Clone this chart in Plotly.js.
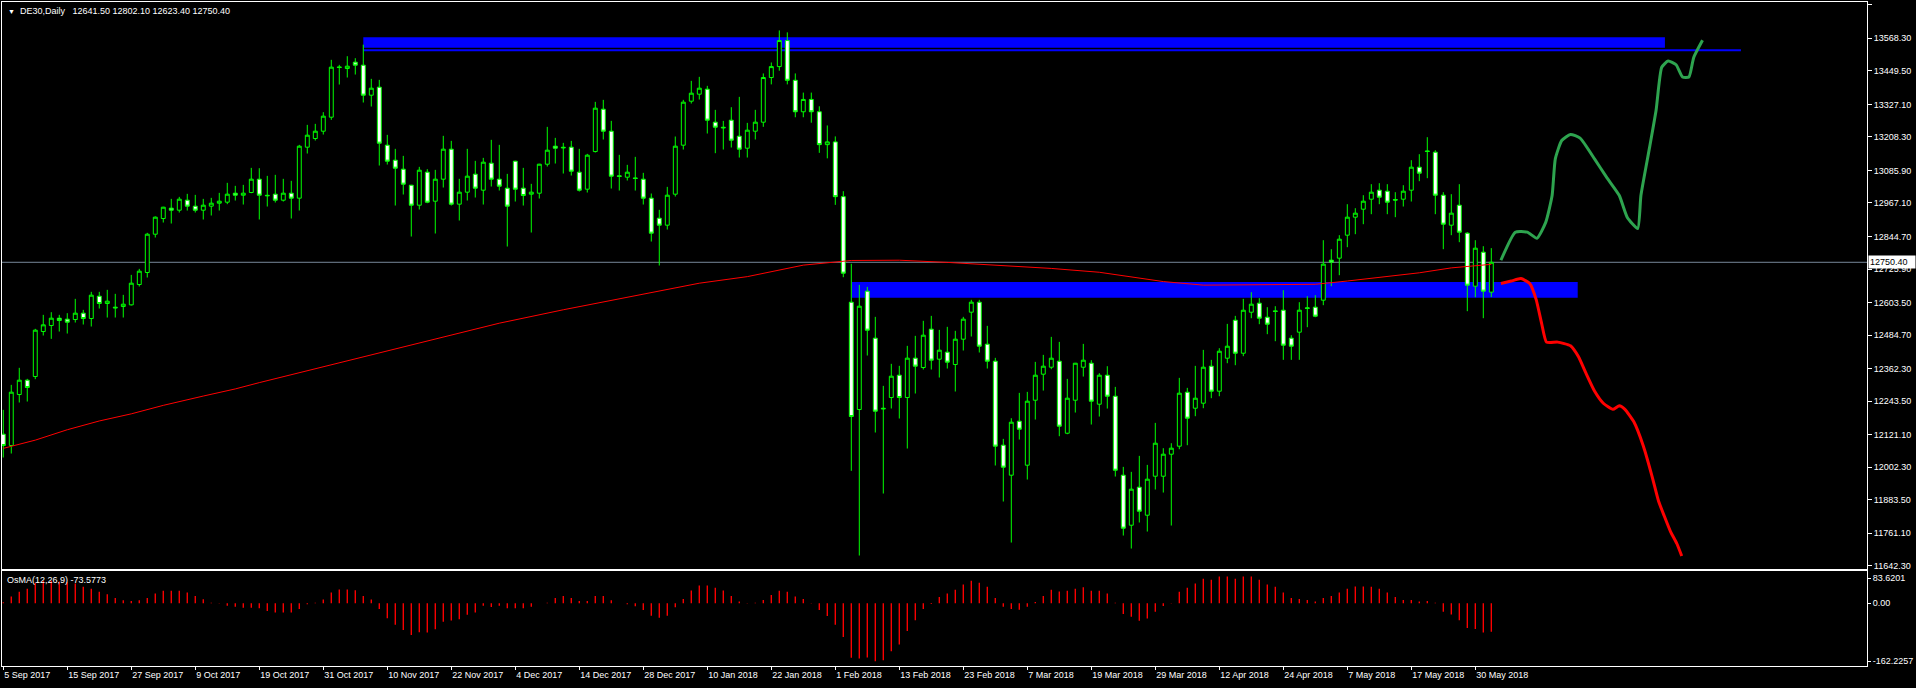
<!DOCTYPE html>
<html><head><meta charset="utf-8">
<script src="https://cdn.plot.ly/plotly-3.0.1.min.js"></script>
<style>html,body{margin:0;padding:0;background:#000;}#chart{width:1916px;height:688px;}</style>
</head><body><div id="chart"></div>
<script>
const symbolName = 'DE30,Daily';
const indicatorName = 'OsMA(12,26,9)';
const dateLabels = ['5 Sep 2017','15 Sep 2017','27 Sep 2017','9 Oct 2017','19 Oct 2017','31 Oct 2017','10 Nov 2017','22 Nov 2017','4 Dec 2017','14 Dec 2017','28 Dec 2017','10 Jan 2018','22 Jan 2018','1 Feb 2018','13 Feb 2018','23 Feb 2018','7 Mar 2018','19 Mar 2018','29 Mar 2018','12 Apr 2018','24 Apr 2018','7 May 2018','17 May 2018','30 May 2018'];
const barsPerLabel = 8;
const priceTicks = [13690.7,13568.3,13449.5,13327.1,13208.3,13085.9,12967.1,12844.7,12725.9,12603.5,12484.7,12362.3,12243.5,12121.1,12002.3,11883.5,11761.1,11642.3];
const osmaTickText = ['83.6201','0.00','-162.2257'];
const osmaRange = [-162.2257, 83.6201];

const openP = [12122.8,12081.4,12267.6,12319.9,12333.3,12497.6,12519.5,12546.3,12542.7,12541.4,
12564.6,12545.1,12626.6,12599.9,12586.5,12588.9,12595.0,12669.2,12713.1,12853.0,
12910.2,12948.0,12940.6,12977.2,12955.3,12940.6,12955.3,12966.2,12969.9,13002.7,
12995.4,13005.2,13053.8,12995.0,12999.1,12977.2,13002.7,12984.5,13170.7,13202.3,
13229.1,13280.2,13463.8,13457.9,13481.0,13470.1,13360.5,13389.8,13178.0,13123.2,
13090.4,13031.9,12958.9,13079.4,12973.5,13053.8,13163.4,12962.6,13006.4,13072.1,
13013.7,13112.3,13053.8,13021.0,13119.5,13021.0,12999.1,13002.7,13108.6,13174.3,
13170.5,13170.7,13079.4,13017.3,13154.8,13309.4,13229.1,13066.0,13061.1,13058.5,
13053.8,12984.5,12911.4,12885.9,12999.1,13178.0,13338.6,13364.2,13382.4,13262.0,
13243.5,13269.3,13210.8,13167.0,13229.1,13262.0,13425.0,13465.0,13560.0,13415.0,
13300.0,13345.0,13300.0,13180.0,13190.0,12990.0,12604.7,12212.8,12644.9,12473.3,
12217.5,12256.6,12338.2,12256.6,12400.3,12366.2,12506.2,12396.6,12422.2,12377.1,
12469.6,12568.2,12604.7,12451.4,12389.3,12082.6,11973.0,12170.2,12009.5,12246.8,
12341.8,12367.3,12389.2,12126.3,12246.8,12367.3,12381.9,12232.2,12338.1,12261.4,
11973.0,11790.4,11929.2,11826.9,11969.3,11969.3,12049.7,12078.9,12276.0,12217.6,
12235.9,12371.0,12279.7,12400.2,12538.9,12418.4,12568.1,12601.1,12549.9,12573.0,
12575.5,12473.3,12495.2,12584.0,12586.5,12612.0,12758.1,12765.4,12849.4,12915.1,
12944.3,12980.8,13013.7,13010.0,12979.5,12980.8,13013.7,13097.6,13157.0,13152.4,
12995.4,12885.9,12958.9,12856.7,12663.1,12787.3,12641.5];
const highP = [12211.6,12302.9,12365.0,12324.8,12507.4,12558.5,12568.2,12558.5,12564.6,12616.9,
12576.7,12642.5,12642.5,12649.8,12635.2,12631.5,12704.5,12726.4,12857.9,12918.0,
12953.0,12982.0,12989.3,13000.3,12996.6,12982.0,12985.7,13003.9,13040.5,13029.5,
13033.1,13095.2,13094.0,13066.0,13069.7,13055.1,13047.8,13179.2,13252.2,13255.9,
13298.5,13489.6,13471.3,13502.9,13495.6,13545.0,13420.2,13416.5,13215.7,13164.6,
13139.0,13033.0,13098.9,13090.4,13087.9,13212.1,13193.8,13055.1,13164.6,13120.8,
13131.7,13197.5,13179.2,13073.3,13121.0,13095.2,13036.8,13110.0,13244.9,13204.7,
13186.5,13193.8,13164.6,13146.3,13336.2,13343.5,13266.8,13142.7,13106.2,13135.4,
13077.0,13001.5,12941.9,13025.8,13209.6,13343.5,13412.9,13427.5,13394.6,13307.0,
13266.8,13316.7,13354.4,13259.5,13307.0,13440.0,13480.0,13597.0,13590.0,13440.0,
13370.0,13370.0,13320.0,13250.0,13210.0,13010.0,12745.0,12668.0,12660.7,12551.2,
12299.2,12379.6,12372.3,12445.3,12481.8,12536.6,12554.8,12503.7,12514.7,12500.1,
12551.2,12613.3,12613.3,12518.3,12401.5,12105.7,12181.1,12273.6,12277.3,12386.8,
12412.4,12478.1,12459.8,12324.7,12383.0,12452.5,12392.9,12345.4,12371.0,12295.5,
12003.4,11985.2,12043.6,12010.7,12164.1,12071.6,12089.8,12328.4,12291.9,12372.2,
12430.6,12394.1,12436.7,12525.5,12554.8,12616.8,12641.2,12619.3,12586.5,12590.1,
12648.5,12484.2,12604.7,12626.6,12630.3,12831.1,12798.2,12849.4,12962.5,12947.9,
12995.4,13035.6,13039.2,13035.6,13006.4,13031.9,13123.2,13145.1,13207.2,13159.7,
13006.4,12999.1,13035.6,12860.3,12831.1,12809.2,12802.1];
const lowP = [12037.6,12052.2,12238.4,12242.0,12323.6,12483.0,12470.8,12497.6,12490.3,12530.5,
12523.2,12515.9,12581.6,12548.7,12548.7,12548.7,12592.6,12661.9,12694.8,12840.8,
12895.6,12892.0,12932.1,12939.4,12932.1,12906.6,12921.2,12939.4,12962.6,12975.9,
12961.3,13002.7,12906.6,12954.0,12968.6,12972.3,12910.2,12939.4,13147.6,13195.0,
13216.9,13270.5,13399.5,13425.1,13436.0,13333.8,13319.2,13103.7,13107.4,12957.7,
12997.9,12844.5,12943.1,12966.2,12855.5,13023.4,12957.7,12902.9,12975.9,12986.9,
12961.3,13027.1,13012.5,12808.0,12972.3,12957.7,12859.1,12983.2,13100.1,13111.0,
13074.5,13067.2,13008.8,13005.1,13151.2,13198.7,13019.7,13012.4,13049.0,13012.4,
12961.3,12826.2,12738.6,12870.0,12990.5,13162.1,13330.1,13344.7,13220.6,13148.8,
13162.1,13169.5,13132.9,13132.9,13198.7,13245.0,13400.0,13450.0,13400.0,13280.0,
13280.0,13260.0,13150.0,13130.0,12960.0,12696.0,11988.9,11679.7,12410.0,12128.9,
11906.1,12216.5,12180.0,12070.4,12271.3,12358.9,12358.9,12329.7,12362.5,12278.6,
12428.3,12479.4,12421.0,12362.5,12008.4,11876.9,11727.1,12103.2,11957.2,12176.2,
12282.1,12360.0,12115.4,12122.7,12201.8,12333.2,12158.0,12187.2,12216.4,11968.1,
11752.7,11705.2,11800.2,11767.3,11920.7,11909.7,11789.2,12067.9,12082.5,12188.4,
12217.6,12254.1,12261.4,12381.9,12374.6,12407.5,12546.2,12524.4,12487.9,12462.3,
12394.2,12394.2,12394.2,12513.4,12549.9,12593.8,12663.1,12703.3,12805.5,12853.0,
12889.5,12926.0,12962.5,12926.0,12915.1,12954.0,12972.3,13046.5,13057.5,12926.0,
12798.2,12849.4,12823.8,12571.9,12623.0,12546.3,12623.4];
const closeP = [12081.4,12276.1,12319.9,12293.2,12502.5,12522.0,12546.3,12537.8,12531.7,12564.6,
12545.1,12630.3,12599.9,12608.4,12584.1,12597.4,12674.1,12717.9,12853.0,12915.1,
12951.6,12940.6,12980.8,12955.3,12940.6,12958.9,12966.2,12973.5,12999.1,12995.4,
13002.7,13053.8,12995.4,12993.5,12977.2,13002.7,12984.5,13174.3,13214.5,13229.1,
13283.9,13462.8,13461.8,13466.4,13470.1,13360.5,13386.1,13185.3,13119.6,13094.0,
13035.6,12958.9,13086.7,12969.9,13053.8,13163.4,12962.6,13006.4,13064.8,13021.0,
13115.9,13053.8,13028.3,12955.3,13017.3,12994.2,13006.4,13108.6,13159.7,13167.0,
13168.5,13083.0,13013.7,13141.5,13313.1,13229.1,13064.8,13064.0,13079.4,13056.5,
12984.5,12856.7,12885.9,12995.4,13174.3,13335.0,13367.8,13386.1,13269.3,13243.7,
13241.5,13196.2,13163.4,13232.7,13262.0,13425.0,13465.0,13560.0,13415.0,13300.0,
13345.0,13300.0,13180.0,13190.0,12990.0,12710.6,12187.3,12590.1,12502.5,12206.7,
12215.5,12334.5,12256.6,12400.3,12371.1,12484.2,12393.0,12429.5,12385.7,12469.6,
12542.7,12604.7,12444.1,12389.3,12079.0,12002.3,12166.5,12140.9,12243.2,12338.1,
12371.0,12400.2,12151.9,12254.1,12381.9,12392.9,12243.2,12338.1,12261.4,11991.2,
11779.5,11921.9,11841.5,11958.4,12089.8,12049.7,12071.6,12272.4,12181.1,12254.1,
12367.3,12279.7,12425.7,12444.0,12418.4,12575.4,12597.4,12546.3,12524.4,12571.0,
12447.7,12444.1,12575.5,12582.0,12553.6,12743.5,12750.8,12834.7,12915.1,12929.7,
12973.5,13006.4,12988.1,12969.8,12977.5,13010.0,13097.6,13075.7,13155.0,12995.4,
12889.5,12929.7,12860.3,12666.8,12801.9,12644.9,12750.4];

const osma = [2.6,17.4,29.6,37.5,53.2,58.4,58.4,56.7,54.9,51.4,
42.7,37.5,29.6,23.5,13.9,7.8,6.1,7.8,13.9,25.3,
32.3,32.3,32.3,27.9,19.2,10.5,1.7,0.5,-6.1,-8.7,
-11.3,-11.3,-13.1,-20.0,-23.5,-23.5,-23.5,-14.8,-2.6,1.7,
9.6,27.9,35.7,35.7,34.0,19.2,9.6,-14.8,-38.4,-55.8,
-68.9,-81.9,-75.0,-75.8,-67.1,-47.9,-44.5,-41.0,-29.6,-23.5,
-6.1,-9.6,-6.1,-13.1,-13.1,-13.1,-8.7,0.3,1.7,13.9,
19.2,13.9,6.1,6.1,19.2,19.2,7.8,0.3,-2.6,-7.8,
-17.4,-32.3,-37.5,-32.3,-10.5,11.3,33.1,46.2,
46.2,40.1,33.1,19.2,4.4,0.5,1.7,8.7,21.8,32.3,
29.6,17.4,11.3,-0.5,-17.4,-33.1,-55.8,-87.2,-141.2,-143.0,
-140.3,-149.9,-147.3,-123.8,-106.3,-71.5,-43.6,-14.8,-1.7,16.6,
25.3,34.9,48.8,58.4,53.2,42.7,13.9,-8.7,-14.8,-16.6,
-8.7,3.5,19.2,34.9,30.5,32.3,37.5,41.8,32.3,32.3,
25.3,1.7,-27.9,-34.9,-45.3,-39.2,-21.8,-7.0,0.9,29.6,
40.1,51.4,63.6,61.0,69.7,69.7,63.6,69.7,69.7,61.0,
48.8,42.7,27.9,13.9,11.3,8.7,4.4,13.9,19.2,27.9,
37.5,43.6,43.6,42.7,37.5,27.9,16.6,8.7,8.7,4.4,
6.1,1.7,-21.8,-28.8,-43.6,-63.6,-66.2,-75.8,-73.5773];

const maBar = [0,4,8,12,16,20,25,29,32,47,62,70,79,87,93,97,100,106,112,118,125,131,137,141,145,150,156,161,164,168,172,177,181,185,186];
const maValue = [12071,12101,12139,12171,12197,12228,12262,12288,12311,12419,12528,12577,12629,12674,12698,12722,12740,12757,12758,12750,12737,12728,12714,12698,12680,12667,12668,12670,12670,12682,12696,12712,12730,12740,12743];

const bullBar = [187.2,189.0,190.5,191.7,192.8,193.6,194.0,194.8,195.9,197.1,198.9,200.4,202.0,203.0,204.3,204.7,205.8,206.6,207.3,208.1,209.1,209.9,210.7,211.3,212.4];
const bullPrice = [12757.8,12860.4,12860.4,12838.1,12896.1,12994.3,13128.1,13195.0,13217.3,13204.0,13128.1,13061.2,12994.3,12914.0,12873.8,12994.3,13172.7,13306.6,13462.7,13485.0,13471.6,13427.0,13427.0,13498.4,13560.9];
const bearBar = [187.2,188.5,189.7,190.8,191.6,192.3,192.9,194.3,195.9,196.9,197.8,198.9,200.0,201.2,202.0,202.7,203.8,205.0,206.1,206.9,207.6,208.4,209.2,209.8];
const bearPrice = [12673.0,12682.0,12690.9,12673.0,12615.0,12525.8,12458.9,12458.9,12445.5,12405.3,12347.3,12280.4,12235.8,12213.5,12226.9,12213.5,12168.9,12079.7,11968.1,11878.9,11825.3,11767.3,11722.7,11678.1];

const supplyZonePrice = [13534.0, 13571.9];
const supplyZoneBars = [45, 207.7];
const supplyLinePrice = [13524.5];
const supplyLineBars = [45, 217.2];
const demandZonePrice = [12621.1, 12678.5];
const demandZoneBars = [106.06, 196.8];

// ---- drawing ----
const N = closeP.length;
const idx = closeP.map((_, i) => i);
const last = N - 1;
const FONT = 'Liberation Sans, Arial, sans-serif';
const white = '#ffffff';

const traces = [
  {type:'candlestick', x:idx, open:openP, high:highP, low:lowP, close:closeP,
   xaxis:'x', yaxis:'y', whiskerwidth:0, hoverinfo:'skip', showlegend:false,
   increasing:{line:{color:'#00ff00', width:1}, fillcolor:'#000000'},
   decreasing:{line:{color:'#00ff00', width:1}, fillcolor:'#ffffff'}},
  {type:'scatter', mode:'lines', x:maBar, y:maValue, xaxis:'x', yaxis:'y',
   line:{color:'#ff0000', width:1}, hoverinfo:'skip', showlegend:false},
  {type:'scatter', mode:'lines', x:bullBar, y:bullPrice, xaxis:'x', yaxis:'y',
   line:{color:'#2ea44f', width:3, shape:'spline', smoothing:0.5}, hoverinfo:'skip', showlegend:false},
  {type:'scatter', mode:'lines', x:bearBar, y:bearPrice, xaxis:'x', yaxis:'y',
   line:{color:'#ff0000', width:3, shape:'spline', smoothing:0.5}, hoverinfo:'skip', showlegend:false},
  {type:'bar', x:idx, y:osma, xaxis:'x2', yaxis:'y2', width:0.17,
   marker:{color:'#ff0000', line:{width:0}}, hoverinfo:'skip', showlegend:false}
];

const xRange = [-0.16, 232.96];
const tickFont = {family:FONT, size:9, color:white};
const osmaSpan = osmaRange[1] - osmaRange[0];
const osmaPx = 95;
const osmaTickVals = [osmaRange[1] - 7*osmaSpan/osmaPx, 0, osmaRange[0] + 5*osmaSpan/osmaPx];

const hdr = [openP[last], highP[last], lowP[last], closeP[last]].map(v => v.toFixed(2)).join(' ');

const layout = {
  width:1916, height:688,
  paper_bgcolor:'#000000', plot_bgcolor:'#000000',
  margin:{l:2, r:49, t:2, b:22, pad:0},
  showlegend:false, hovermode:false,
  xaxis:{domain:[0,1], range:xRange, autorange:false, anchor:'y', showticklabels:false, ticks:'',
    showgrid:false, zeroline:false, showline:true, mirror:true, linecolor:white, linewidth:1,
    rangeslider:{visible:false}, fixedrange:true},
  yaxis:{domain:[0.14608,1], range:[11630.5,13700.8], autorange:false, side:'right', anchor:'x',
    tickvals:priceTicks, ticktext:priceTicks.map(v => v.toFixed(2)), ticks:'outside', ticklen:4,
    tickcolor:white, tickfont:tickFont, showgrid:false, zeroline:false, showline:true, mirror:true,
    linecolor:white, linewidth:1, fixedrange:true},
  xaxis2:{domain:[0,1], anchor:'y2', matches:'x', range:xRange, autorange:false,
    tickvals:dateLabels.map((_, k) => k*barsPerLabel), ticktext:dateLabels,
    ticklabelposition:'outside right', ticks:'outside', ticklen:3, tickcolor:white, tickfont:tickFont,
    showgrid:false, zeroline:false, showline:true, mirror:true, linecolor:white, linewidth:1, fixedrange:true},
  yaxis2:{domain:[0,0.14307], range:osmaRange, autorange:false, side:'right', anchor:'x2',
    tickvals:osmaTickVals, ticktext:osmaTickText, ticks:'outside', ticklen:3, tickcolor:white, tickfont:tickFont,
    showgrid:false, zeroline:false, showline:true, mirror:true, linecolor:white, linewidth:1, fixedrange:true},
  shapes:[
    {type:'line', xref:'paper', x0:0, x1:1, yref:'y', y0:closeP[last], y1:closeP[last],
     line:{color:'#778899', width:1}, layer:'below'},
    {type:'rect', xref:'x', yref:'y', x0:supplyZoneBars[0], x1:supplyZoneBars[1],
     y0:supplyZonePrice[0], y1:supplyZonePrice[1], fillcolor:'#0000ff', line:{width:0}, layer:'below'},
    {type:'line', xref:'x', yref:'y', x0:supplyLineBars[0], x1:supplyLineBars[1],
     y0:supplyLinePrice[0], y1:supplyLinePrice[0], line:{color:'#0000ff', width:2}, layer:'below'},
    {type:'rect', xref:'x', yref:'y', x0:demandZoneBars[0], x1:demandZoneBars[1],
     y0:demandZonePrice[0], y1:demandZonePrice[1], fillcolor:'#0000ff', line:{width:0}, layer:'below'}
  ],
  annotations:[
    {xref:'paper', yref:'paper', x:0, y:1, xanchor:'left', yanchor:'top', xshift:4, yshift:-2,
     showarrow:false, font:{family:FONT, size:9, color:white},
     text:'<span style="font-size:7px">▼</span>&nbsp;&nbsp;' + symbolName + '&nbsp;&nbsp;&nbsp;' + hdr},
    {xref:'paper', yref:'paper', x:0, y:0.14307, xanchor:'left', yanchor:'top', xshift:3, yshift:-2,
     showarrow:false, font:{family:FONT, size:9, color:white},
     text: indicatorName + ' ' + osma[last].toFixed(4)},
    {xref:'paper', yref:'y', x:1, y:closeP[last], xanchor:'left', yanchor:'middle', xshift:1,
     showarrow:false, bgcolor:white, borderpad:1, width:44, height:10, align:'left',
     font:{family:FONT, size:9, color:'#000000'}, text:closeP[last].toFixed(2)}
  ]
};

Plotly.newPlot('chart', traces, layout, {staticPlot:true, displayModeBar:false});
</script>
</body></html>
